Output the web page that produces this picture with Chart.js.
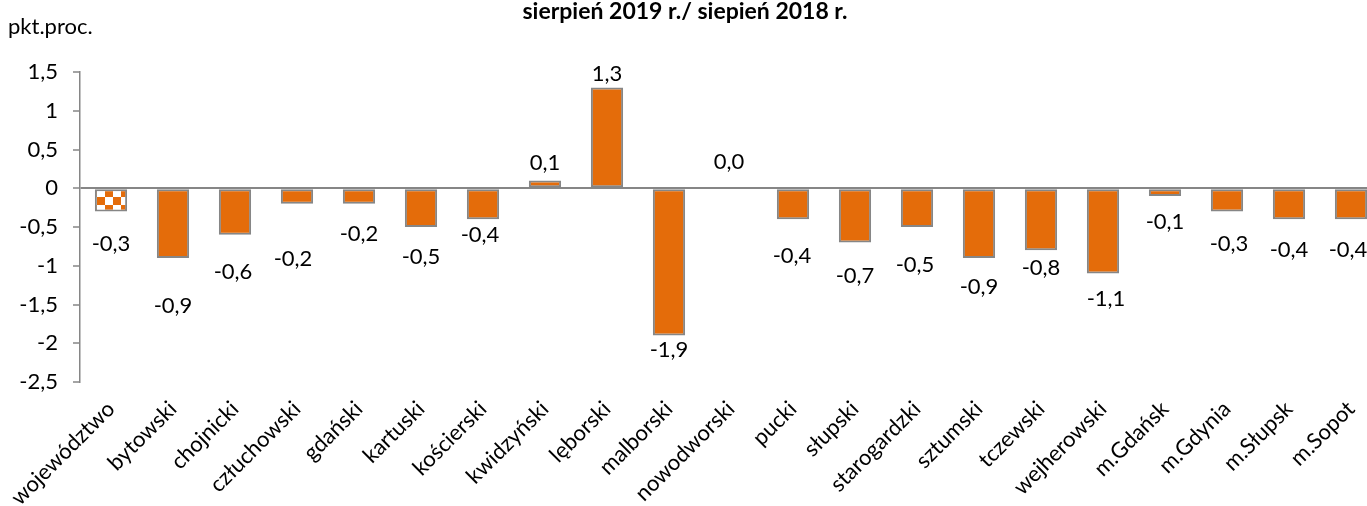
<!DOCTYPE html>
<html>
<head>
<meta charset="utf-8">
<script src="https://cdn.jsdelivr.net/npm/chart.js@4.4.1/dist/chart.umd.min.js"></script>
<style>
  html, body { margin: 0; padding: 0; background: #fff; overflow: hidden; }
  #wrap { width: 1367px; height: 506px; overflow: hidden; }
</style>
</head>
<body>
<div id="wrap"><canvas id="chart" width="1400" height="506"></canvas></div>
<script>
// Data
const categories = ['województwo', 'bytowski', 'chojnicki', 'człuchowski', 'gdański', 'kartuski',
  'kościerski', 'kwidzyński', 'lęborski', 'malborski', 'nowodworski', 'pucki', 'słupski',
  'starogardzki', 'sztumski', 'tczewski', 'wejherowski', 'm.Gdańsk', 'm.Gdynia', 'm.Słupsk', 'm.Sopot'];
const values = [-0.3, -0.9, -0.6, -0.2, -0.2, -0.5, -0.4, 0.1, 1.3, -1.9, 0.0,
  -0.4, -0.7, -0.5, -0.9, -0.8, -1.1, -0.1, -0.3, -0.4, -0.4];
const yTicks = [-2.5, -2, -1.5, -1, -0.5, 0, 0.5, 1, 1.5];
const title = 'sierpień 2019 r./ siepień 2018 r.';
const unitLabel = 'pkt.proc.';

// Label nudges (px from the bar end), hand placed in the original
const labelDx = [0, 0, -2, -4, 0, 0, -3, 0, 0, 0, -2, -1, 0, -2, 0, 0, 3, 0, 2, 0, -3];
const labelDy = [32, 48, 37, 55, 30, 30, 16, -18, -14, 14, -26, 37, 33, 38, 29, 18, 25, 26, 32, 31, 31];

const ORANGE = '#E46C0A';
const GREY = '#868686';
const FONT = 'Lato';
const FS = 22;

// checkered fill for the first bar
function checker() {
  const t = document.createElement('canvas');
  t.width = 16; t.height = 16;
  const c = t.getContext('2d');
  c.fillStyle = '#fff'; c.fillRect(0, 0, 16, 16);
  c.fillStyle = ORANGE;
  c.fillRect(0, 0, 8, 8); c.fillRect(8, 8, 8, 8);
  const p = document.getElementById('chart').getContext('2d').createPattern(t, 'repeat');
  p.setTransform(new DOMMatrix().translate(1, 5));
  return p;
}
const fills = values.map((v, i) => i === 0 ? checker() : ORANGE);

const comma = v => String(v).replace('.', ',');

const labelsPlugin = {
  id: 'valueLabels',
  afterDatasetsDraw(chart) {
    const ctx = chart.ctx;
    const meta = chart.getDatasetMeta(0);
    ctx.save();
    ctx.font = FS + 'px ' + FONT;
    ctx.fillStyle = '#000';
    ctx.textAlign = 'center';
    ctx.textBaseline = 'middle';
    meta.data.forEach((bar, i) => {
      ctx.fillText(values[i].toFixed(1).replace('.', ','), bar.x + labelDx[i], bar.y + labelDy[i]);
    });
    ctx.restore();
  }
};

const textPlugin = {
  id: 'texts',
  afterDraw(chart) {
    const ctx = chart.ctx;
    ctx.save();
    ctx.fillStyle = '#000';
    ctx.textBaseline = 'alphabetic';
    ctx.font = 'bold 23px ' + FONT;
    ctx.textAlign = 'center';
    ctx.fillText(title, 685, 19);
    ctx.font = FS + 'px ' + FONT;
    ctx.textAlign = 'left';
    ctx.fillText(unitLabel, 8, 34);
    ctx.restore();
  }
};

new Chart(document.getElementById('chart').getContext('2d'), {
  type: 'bar',
  data: {
    labels: categories,
    datasets: [{
      data: values,
      backgroundColor: fills,
      borderColor: GREY,
      borderWidth: 2,
      borderSkipped: false,
      barPercentage: 0.52,
      categoryPercentage: 1
    }]
  },
  options: {
    responsive: false,
    animation: false,
    layout: { padding: { top: 72, left: 0, right: 18, bottom: 0 } },
    plugins: { legend: { display: false }, tooltip: { enabled: false }, title: { display: false } },
    scales: {
      x: {
        grid: { display: false },
        border: { display: false },
        ticks: {
          autoSkip: false,
          maxRotation: 45,
          minRotation: 45,
          padding: 6,
          color: '#000',
          font: { family: FONT, size: FS }
        },
        afterFit(scale) { scale.height = 124; }
      },
      y: {
        min: -2.5,
        max: 1.5,
        afterBuildTicks(scale) { scale.ticks = yTicks.map(v => ({ value: v })); },
        grid: {
          drawOnChartArea: true,
          color: ctx => (ctx.tick && ctx.tick.value === 0) ? GREY : 'transparent',
          lineWidth: 2,
          tickColor: GREY,
          tickLength: 7,
          tickWidth: 1.5
        },
        border: { display: true, color: GREY, width: 1.5 },
        ticks: {
          padding: 15,
          color: '#000',
          font: { family: FONT, size: FS },
          callback: v => comma(v)
        },
        afterFit(scale) { scale.width = 80; }
      }
    }
  },
  plugins: [labelsPlugin, textPlugin]
});
</script>
</body>
</html>
